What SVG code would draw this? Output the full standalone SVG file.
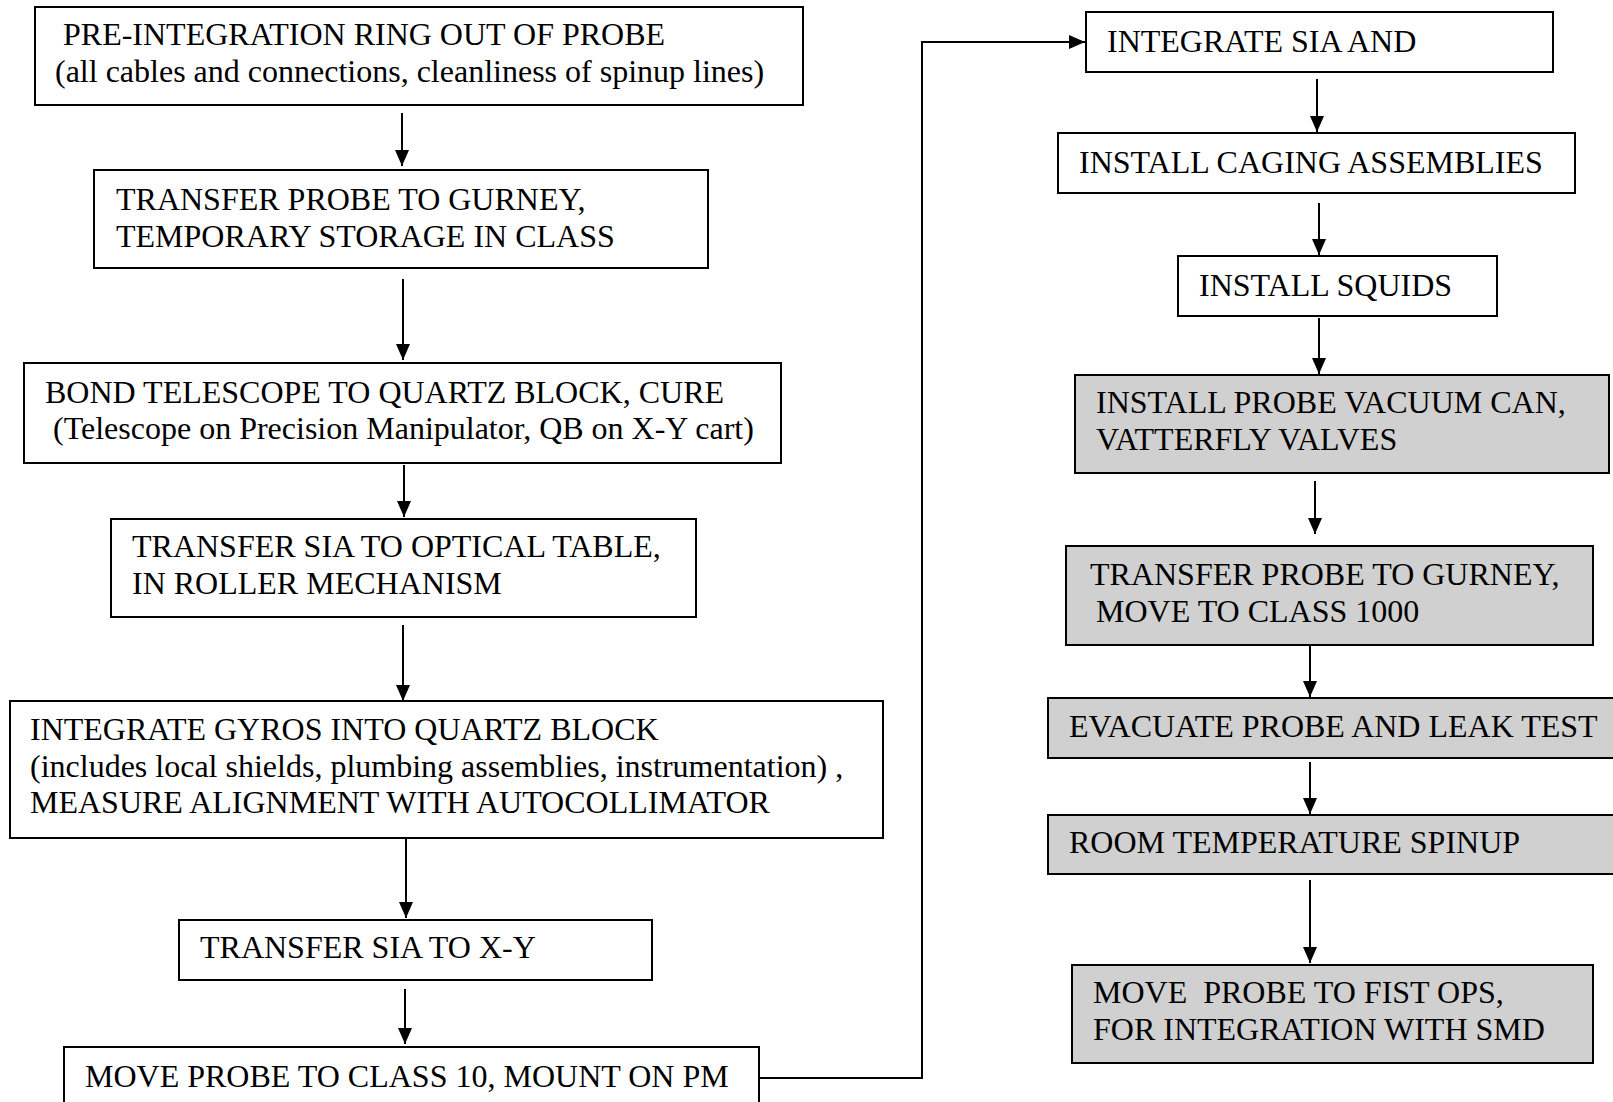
<svg xmlns="http://www.w3.org/2000/svg" width="1613" height="1102" viewBox="0 0 1613 1102">
<style>
.box{fill:#ffffff;stroke:#000;stroke-width:2}
.gbox{fill:#d0d0d0;stroke:#000;stroke-width:2}
text{font-family:"Liberation Serif","Times New Roman",serif;font-size:32px;fill:#000}
.c{fill:none;stroke:#000;stroke-width:2}
</style>
<defs>
<marker id="ah" markerUnits="userSpaceOnUse" markerWidth="16" markerHeight="14" refX="16" refY="7" orient="auto">
<path d="M0,0 L16,7 L0,14 z" fill="#000"/>
</marker>
</defs>
<rect width="1613" height="1102" fill="#fff"/>
<g id="connectors">
<line class="c" x1="402" y1="113" x2="402" y2="166" marker-end="url(#ah)"/>
<line class="c" x1="403" y1="279" x2="403" y2="360" marker-end="url(#ah)"/>
<line class="c" x1="404" y1="465" x2="404" y2="517" marker-end="url(#ah)"/>
<line class="c" x1="403" y1="625" x2="403" y2="701" marker-end="url(#ah)"/>
<line class="c" x1="406" y1="839" x2="406" y2="918" marker-end="url(#ah)"/>
<line class="c" x1="405" y1="989" x2="405" y2="1044" marker-end="url(#ah)"/>
<polyline class="c" points="759,1078 922,1078 922,42 1085,42" marker-end="url(#ah)"/>
<line class="c" x1="1317" y1="79" x2="1317" y2="132" marker-end="url(#ah)"/>
<line class="c" x1="1319" y1="203" x2="1319" y2="255" marker-end="url(#ah)"/>
<line class="c" x1="1319" y1="318" x2="1319" y2="374" marker-end="url(#ah)"/>
<line class="c" x1="1315" y1="481" x2="1315" y2="534" marker-end="url(#ah)"/>
<line class="c" x1="1310" y1="645" x2="1310" y2="697" marker-end="url(#ah)"/>
<line class="c" x1="1310" y1="762" x2="1310" y2="814" marker-end="url(#ah)"/>
<line class="c" x1="1310" y1="880" x2="1310" y2="963" marker-end="url(#ah)"/>
</g>
<g id="n1">
<rect class="box" x="35" y="7" width="768" height="98"/>
<text x="63" y="45">PRE-INTEGRATION RING OUT OF PROBE</text>
<text x="55" y="82">(all cables and connections, cleanliness of spinup lines)</text>
</g>
<g id="n2">
<rect class="box" x="94" y="170" width="614" height="98"/>
<text x="116" y="210">TRANSFER PROBE TO GURNEY,</text>
<text x="116" y="247">TEMPORARY STORAGE IN CLASS</text>
</g>
<g id="n3">
<rect class="box" x="24" y="363" width="757" height="100"/>
<text x="45" y="403">BOND TELESCOPE TO QUARTZ BLOCK, CURE</text>
<text x="53" y="439">(Telescope on Precision Manipulator, QB on X-Y cart)</text>
</g>
<g id="n4">
<rect class="box" x="111" y="519" width="585" height="98"/>
<text x="132" y="557">TRANSFER SIA TO OPTICAL TABLE,</text>
<text x="132" y="594">IN ROLLER MECHANISM</text>
</g>
<g id="n5">
<rect class="box" x="10" y="701" width="873" height="137"/>
<text x="30" y="740">INTEGRATE GYROS INTO QUARTZ BLOCK</text>
<text x="30" y="777">(includes local shields, plumbing assemblies, instrumentation) ,</text>
<text x="30" y="813">MEASURE ALIGNMENT WITH AUTOCOLLIMATOR</text>
</g>
<g id="n6">
<rect class="box" x="179" y="920" width="473" height="60"/>
<text x="200" y="958">TRANSFER SIA TO X-Y</text>
</g>
<g id="n7">
<rect class="box" x="64" y="1047" width="695" height="70"/>
<text x="85" y="1087">MOVE PROBE TO CLASS 10, MOUNT ON PM</text>
</g>
<g id="r1">
<rect class="box" x="1086" y="12" width="467" height="60"/>
<text x="1107" y="52">INTEGRATE SIA AND</text>
</g>
<g id="r2">
<rect class="box" x="1058" y="133" width="517" height="60"/>
<text x="1079" y="173">INSTALL CAGING ASSEMBLIES</text>
</g>
<g id="r3">
<rect class="box" x="1178" y="256" width="319" height="60"/>
<text x="1199" y="296">INSTALL SQUIDS</text>
</g>
<g id="r4">
<rect class="gbox" x="1075" y="375" width="534" height="98"/>
<text x="1096" y="413">INSTALL PROBE VACUUM CAN,</text>
<text x="1096" y="450">VATTERFLY VALVES</text>
</g>
<g id="r5">
<rect class="gbox" x="1066" y="546" width="527" height="99"/>
<text x="1090" y="585">TRANSFER PROBE TO GURNEY,</text>
<text x="1096" y="622">MOVE TO CLASS 1000</text>
</g>
<g id="r6">
<rect class="gbox" x="1048" y="698" width="600" height="60"/>
<text x="1069" y="737">EVACUATE PROBE AND LEAK TEST</text>
</g>
<g id="r7">
<rect class="gbox" x="1048" y="815" width="600" height="59"/>
<text x="1069" y="853">ROOM TEMPERATURE SPINUP</text>
</g>
<g id="r8">
<rect class="gbox" x="1072" y="965" width="521" height="98"/>
<text x="1093" y="1003" xml:space="preserve">MOVE  PROBE TO FIST OPS,</text>
<text x="1093" y="1040">FOR INTEGRATION WITH SMD</text>
</g>
</svg>
